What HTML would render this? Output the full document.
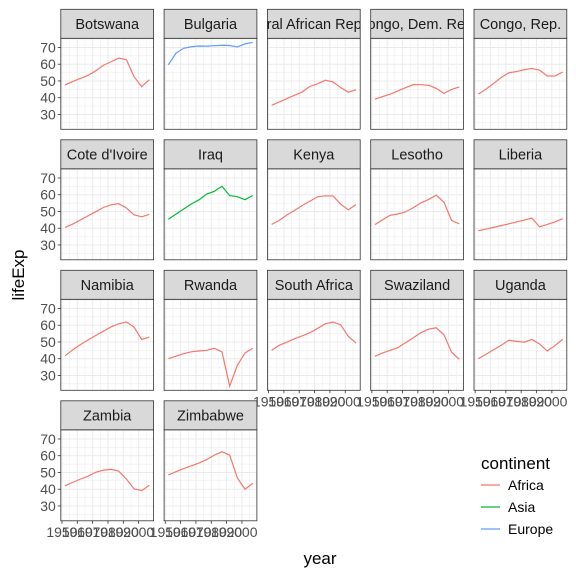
<!DOCTYPE html>
<html><head><meta charset="utf-8"><style>
body{margin:0;background:#fff}
svg{display:block;font-family:"Liberation Sans",Arial,sans-serif}
</style></head><body>
<svg id="chart" width="576" height="576" viewBox="0 0 576 576" xmlns="http://www.w3.org/2000/svg">
<text x="320" y="564" font-size="17" text-anchor="middle" fill="#000">year</text>
<text transform="translate(24,275) rotate(-90)" font-size="17" text-anchor="middle" fill="#000">lifeExp</text>
<g>
<text x="481" y="469" font-size="17" fill="#000">continent</text>
<line x1="481" x2="500" y1="485" y2="485" stroke="#F8766D" stroke-width="1.3"/>
<text x="508" y="490" font-size="14" fill="#000">Africa</text>
<line x1="481" x2="500" y1="507" y2="507" stroke="#00BA38" stroke-width="1.3"/>
<text x="508" y="512" font-size="14" fill="#000">Asia</text>
<line x1="481" x2="500" y1="529" y2="529" stroke="#619CFF" stroke-width="1.3"/>
<text x="508" y="534" font-size="14" fill="#000">Europe</text>
</g>
</svg>
<script>
const years=[1952,1957,1962,1967,1972,1977,1982,1987,1992,1997,2002,2007];
const countries=["Botswana","Bulgaria","Central African Republic","Congo, Dem. Rep.","Congo, Rep.","Cote d'Ivoire","Iraq","Kenya","Lesotho","Liberia","Namibia","Rwanda","South Africa","Swaziland","Uganda","Zambia","Zimbabwe"];
const continents=["Africa","Europe","Africa","Africa","Africa","Africa","Asia","Africa","Africa","Africa","Africa","Africa","Africa","Africa","Africa","Africa","Africa"];
const lifeExp=[
[47.622,49.618,51.52,53.298,56.024,59.319,61.484,63.622,62.745,52.556,46.634,50.728],
[59.6,66.61,69.51,70.42,70.9,70.81,71.08,71.34,71.19,70.32,72.14,73.005],
[35.463,37.464,39.475,41.478,43.457,46.775,48.295,50.485,49.396,46.066,43.308,44.741],
[39.143,40.652,42.122,44.056,45.989,47.804,47.784,47.412,45.548,42.587,44.966,46.462],
[42.111,45.053,48.435,52.04,54.907,55.625,56.695,57.47,56.433,52.962,52.97,55.322],
[40.477,42.469,44.93,47.35,49.801,52.374,53.983,54.655,52.044,47.991,46.832,48.328],
[45.32,48.437,51.457,54.459,56.95,60.413,62.038,65.044,59.461,58.811,57.046,59.545],
[42.27,44.686,47.949,50.654,53.559,56.155,58.766,59.339,59.285,54.407,50.992,54.11],
[42.138,45.047,47.747,48.492,49.767,52.208,55.078,57.18,59.685,55.558,44.593,42.592],
[38.48,39.486,40.502,41.536,42.614,43.764,44.852,46.027,40.802,42.221,43.753,45.678],
[41.725,45.226,48.386,51.159,53.867,56.437,58.968,60.835,61.999,58.909,51.479,52.906],
[40,41.5,43,44.1,44.6,45,46.218,44.02,23.599,36.087,43.413,46.242],
[45.009,47.985,49.951,51.927,53.696,55.527,58.161,60.834,61.888,60.236,53.365,49.339],
[41.407,43.424,44.992,46.633,49.552,52.537,55.561,57.678,58.474,54.289,43.869,39.613],
[39.978,42.571,45.344,48.051,51.016,50.35,49.849,51.509,48.825,44.578,47.813,51.542],
[42.038,44.077,46.023,47.768,50.107,51.386,51.821,50.821,46.1,40.238,39.193,42.384],
[48.451,50.469,52.358,53.995,55.635,57.674,60.363,62.351,60.377,46.809,39.989,43.487]];
const yTicks=[30,40,50,60,70];
const xTicks=[1950,1960,1970,1980,1990,2000];
const colors={Africa:"#F8766D",Asia:"#00BA38",Europe:"#619CFF"};

const NS="http://www.w3.org/2000/svg";
const svg=document.getElementById('chart');
const PW=92.8,PH=91,SH=29,COLP=103.3,ROWP=130.5,X0=60.8,Y0=9.3;
const yMin=21.13,yMax=75.48,xMin=1949.25,xMax=2009.75;
function mk(t,a,p){const e=document.createElementNS(NS,t);for(const k in a)e.setAttribute(k,a[k]);(p||svg).appendChild(e);return e;}
const defs=mk('defs',{});
countries.forEach((c,i)=>{
  const col=i%5,row=Math.floor(i/5);
  const px=X0+col*COLP,sy=Y0+row*ROWP,py=sy+SH;
  const sx=v=>px+(v-xMin)/(xMax-xMin)*PW;
  const syv=v=>py+PH-(v-yMin)/(yMax-yMin)*PH;
  const g=mk('g',{});
  
  
  mk('rect',{x:px,y:py,width:PW,height:PH,fill:'#fff'},g);
  for(let v=25;v<=75;v+=5){const major=v%10===0;mk('line',{x1:px,x2:px+PW,y1:syv(v),y2:syv(v),stroke:'#ebebeb','stroke-width':major?1:0.5},g);}
  for(let v=1950;v<=2005;v+=5){const major=v%10===0;mk('line',{x1:sx(v),x2:sx(v),y1:py,y2:py+PH,stroke:'#ebebeb','stroke-width':major?1:0.5},g);}
  const pts=years.map((y,k)=>sx(y).toFixed(2)+','+syv(lifeExp[i][k]).toFixed(2)).join(' ');
  const ln=mk('polyline',{points:pts,fill:'none',stroke:colors[continents[i]],'stroke-width':1.2},g);
  
  
  mk('rect',{x:px,y:py,width:PW,height:PH,fill:'none',stroke:'#333','stroke-width':0.8},g);
  const cp=mk('clipPath',{id:'cp'+i},defs);
  mk('rect',{x:px,y:sy,width:PW,height:SH},cp);
  mk('rect',{x:px,y:sy,width:PW,height:SH,fill:'#d9d9d9',stroke:'#333','stroke-width':0.8},g);
  const st=mk('text',{x:px+PW/2,y:sy+SH/2+5.3,'font-size':14.5,'text-anchor':'middle',fill:'#1a1a1a','clip-path':'url(#cp'+i+')'},g);
  st.textContent=c;
  
  
  if(col===0){
    yTicks.forEach(v=>{
      mk('line',{x1:px-3,x2:px,y1:syv(v),y2:syv(v),stroke:'#333','stroke-width':0.8},g);
      const t=mk('text',{x:px-5,y:syv(v)+5,'font-size':14,'text-anchor':'end',fill:'#4d4d4d'},g);
      t.textContent=v;
      
      
    });
  }
  const below=i+5;
  if(below>=countries.length){
    xTicks.forEach(v=>{
      mk('line',{x1:sx(v),x2:sx(v),y1:py+PH,y2:py+PH+3,stroke:'#333','stroke-width':0.8},g);
      const t=mk('text',{x:sx(v),y:py+PH+16,'font-size':14,'text-anchor':'middle',fill:'#4d4d4d'},g);
      t.textContent=v;
      
      
    });
  }
});
</script>
</body></html>
